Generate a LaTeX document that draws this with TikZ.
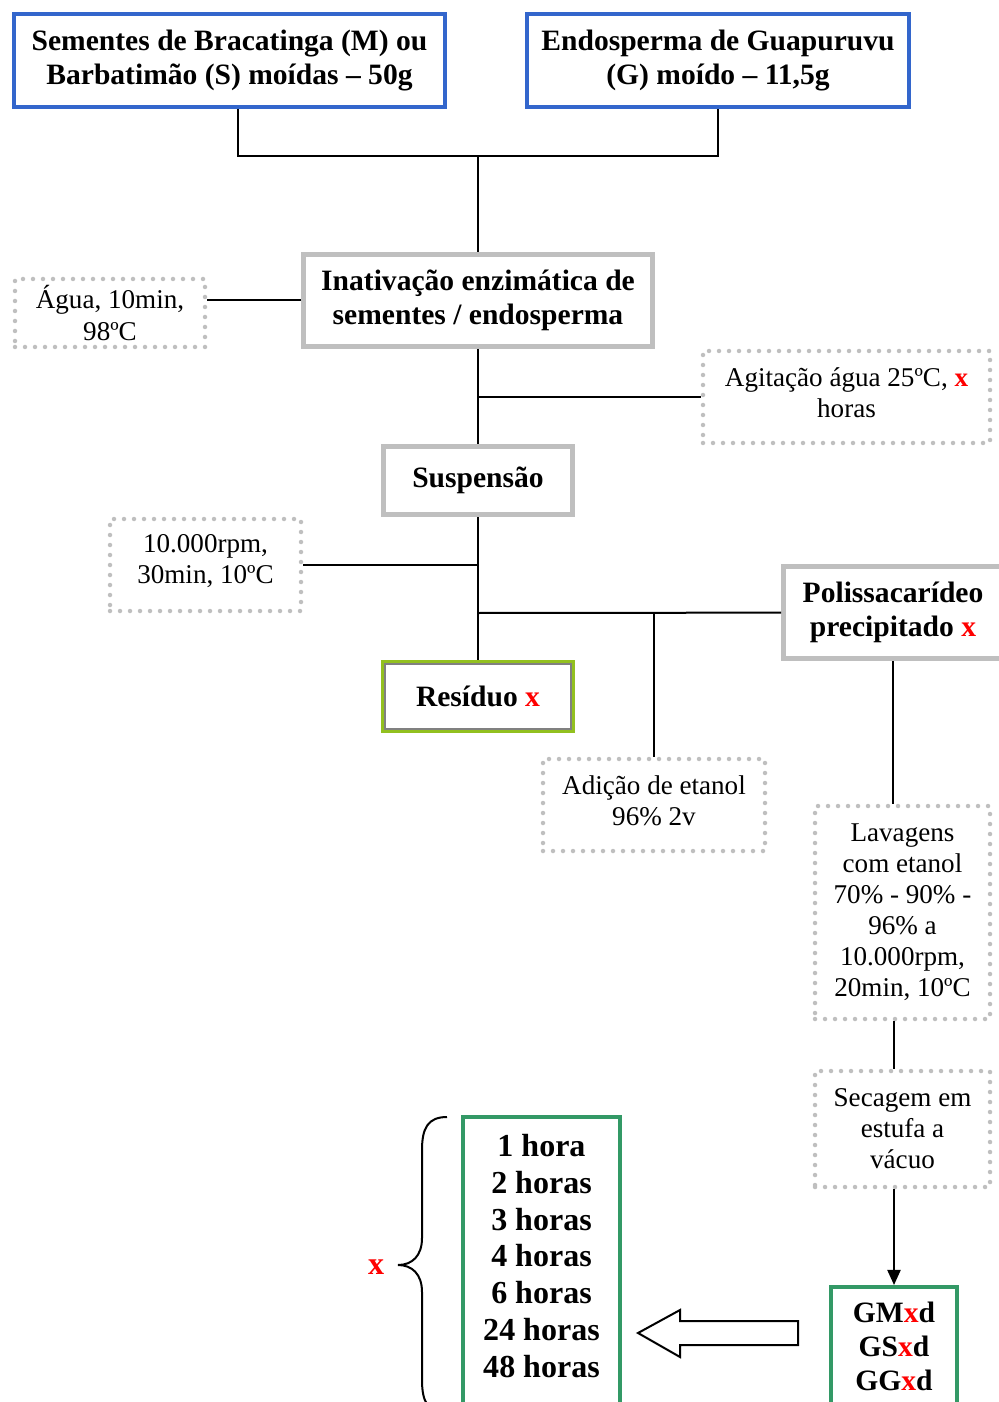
\documentclass[tikz,border=0pt]{standalone}
\usepackage{fontspec}
\setmainfont{Liberation Serif}
\usepackage{tikz}
\usetikzlibrary{arrows.meta}

\newlength{\px}
\setlength{\px}{0.406pt}
\definecolor{azul}{RGB}{51,102,204}
\definecolor{cinza}{RGB}{191,191,191}
\definecolor{verde}{RGB}{51,153,102}
\definecolor{lima}{RGB}{146,192,31}

\begin{document}
\begin{tikzpicture}[
    x=\px, y=-\px,
    entrada/.style={rectangle, draw=azul, line width=4\px, inner sep=0pt, align=center, font=\fontsize{12}{13.8}\selectfont\bfseries},
    etapa/.style={rectangle, draw=cinza, line width=5\px, inner sep=0pt, align=center, font=\fontsize{12}{13.8}\selectfont\bfseries},
    condicao/.style={rectangle, draw=cinza, line width=4.5\px, dash pattern=on 0pt off 10\px, line cap=round, inner sep=0pt, align=center, font=\fontsize{11}{12.6}\selectfont},
    residuo/.style={rectangle, draw=lima, line width=4\px, inner sep=0pt, align=center, font=\fontsize{12}{13.8}\selectfont\bfseries},
    produto/.style={rectangle, draw=verde, line width=4\px, inner sep=0pt, align=center, font=\fontsize{12}{13.8}\selectfont\bfseries},
    ligacao/.style={line width=2\px, black},
    seta/.style={-{Triangle[length=6.1pt,width=5.3pt]}, line width=2\px, black},
    vx/.style={text=red, font=\bfseries}
]

\useasboundingbox (0,0) rectangle (999,1402);

% Entradas
\node[entrada, minimum width=431\px, minimum height=93\px] (semA) at (229.5,60.5) {Sementes de Bracatinga (M) ou\\Barbatimão (S) moídas -- 50g};
\node[entrada, minimum width=382\px, minimum height=93\px] (semB) at (718,60.5) {Endosperma de Guapuruvu\\(G) moído -- 11,5g};
\coordinate (j1) at (478,156);
\draw[ligacao] ([xshift=8\px]semA.south) |- (j1) -| (semB.south);

% Inativacao
\node[etapa, minimum width=349\px, minimum height=92\px] (inat) at (478,300.5) {Inativação enzimática de\\sementes / endosperma};
\node[condicao, minimum width=190\px, minimum height=68\px] (agua) at (110,313) {Água, 10min,\\98ºC};
\draw[ligacao] (j1) -- (inat);
\draw[ligacao] (inat.west) -- (inat.west -| agua.east);

% Suspensao
\node[condicao, minimum width=287\px, minimum height=92\px] (agit) at (846.5,397) {Agitação água 25ºC, {\color{red}\bfseries x}\\horas\\[-9pt]};
\node[etapa, minimum width=189\px, minimum height=68\px] (susp) at (478,480.5) {Suspensão};
\coordinate (j2) at (478,397);
\draw[ligacao] (inat) -- (susp);
\draw[ligacao] (j2) -- (agit);

% Centrifugacao
\node[condicao, minimum width=191\px, minimum height=92\px] (rpm) at (205.5,565) {10.000rpm,\\30min, 10ºC\\[-8pt]};
\node[residuo, minimum width=190\px, minimum height=69\px] (res) at (478,696.5) {Resíduo {\color{red}x}};
\draw[gray, line width=1.5\px] ([shift={(4,4)}]res.north west) rectangle ([shift={(-4,-4)}]res.south east);
\node[etapa, minimum width=219\px, minimum height=92\px] (poli) at (893,612.5) {Polissacarídeo\\precipitado {\color{red}x}};
\node[condicao, minimum width=222\px, minimum height=92\px] (adic) at (654,805) {Adição de etanol\\96\% 2v\\[-9pt]};
\coordinate (j3) at (478,613);
\draw[ligacao] (susp) -- (res);
\draw[ligacao] (rpm.east) -- (rpm -| susp);
\draw[ligacao] (j3) -- (poli);
\draw[ligacao] (adic) -- (adic |- j3);

% Lavagem e secagem
\node[condicao, minimum width=175\px, minimum height=213\px] (lav) at (902.5,912.5) {Lavagens\\com etanol\\70\% - 90\% -\\96\% a\\10.000rpm,\\20min, 10ºC};
\node[condicao, minimum width=175\px, minimum height=116\px] (sec) at (902.5,1129) {Secagem em\\estufa a\\vácuo};
\node[produto, minimum width=126\px, minimum height=118\px] (gm) at (894,1346) {GM{\color{red}x}d\\GS{\color{red}x}d\\GG{\color{red}x}d};
\draw[ligacao] (poli.south) -- (poli.south |- lav.north);
\draw[ligacao] (lav.south -| gm) -- (sec.north -| gm);
\draw[seta] (sec.south -| gm) -- (gm.north);

% Tempos
\node[produto, minimum width=157\px, minimum height=290\px, font=\fontsize{13}{15}\selectfont\bfseries] (horas) at (541.5,1262) {1 hora\\2 horas\\3 horas\\4 horas\\6 horas\\24 horas\\48 horas\\[-10pt]};
\draw[line width=2\px] (798,1321) -- (680,1321) -- (680,1310) -- (638,1333) -- (680,1357) -- (680,1345) -- (798,1345) -- cycle;
\draw[line width=2\px] (447,1117) .. controls (428,1117) and (422,1128) .. (422,1150) -- (422,1238) .. controls (422,1256) and (412,1265) .. (398,1265) .. controls (412,1265) and (422,1274) .. (422,1292) -- (422,1380) .. controls (422,1402) and (428,1413) .. (447,1413);
\node[vx, font=\fontsize{13}{15}\selectfont\bfseries] (xtempo) at (376,1267) {x};

\end{tikzpicture}
\end{document}
